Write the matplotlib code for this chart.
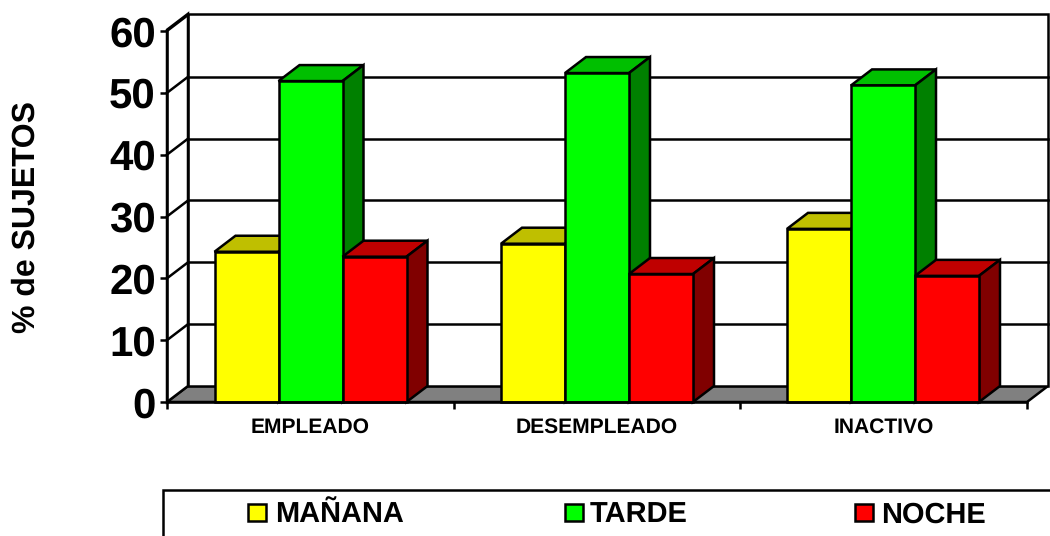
import matplotlib
matplotlib.use("Agg")
import matplotlib.pyplot as plt
from matplotlib.patches import Polygon, Rectangle

plt.rcParams["font.family"] = ["Liberation Sans", "DejaVu Sans"]
plt.rcParams["text.hinting"] = "none"
plt.rcParams["text.hinting_factor"] = 1

categories = ["EMPLEADO", "DESEMPLEADO", "INACTIVO"]
series_names = ["MAÑANA", "TARDE", "NOCHE"]
manana = [24.3, 25.6, 28.0]
tarde = [51.9, 53.2, 51.2]
noche = [23.5, 20.7, 20.4]
y_ticks = [0, 10, 20, 30, 40, 50, 60]

front_cols = ["#FFFF00", "#00FF00", "#FF0000"]
top_cols = ["#BFBF00", "#00BF00", "#BF0000"]
side_cols = ["#808000", "#008000", "#800000"]

W, H = 1050, 536
fig = plt.figure(figsize=(W / 100, H / 100), dpi=100)
# front plane of the 3d box, in pixels: x 167-1027, y 31-402
ax = fig.add_axes([167 / W, 1 - 402 / H, 860 / W, 371 / H])
ax.set_xlim(0, 3)
ax.set_ylim(0, 60)
ax.set_facecolor("none")
for s in ax.spines.values():
    s.set_visible(False)

# depth offset of the box
dx = 21 / 860 * 3
dy = 16 / 371 * 60
lw = 1.8
edge = "black"


def poly(pts, fc, z):
    ax.add_patch(Polygon(pts, closed=True, facecolor=fc, edgecolor=edge, lw=lw,
                         joinstyle="miter", clip_on=False, zorder=z))


# floor and back wall
poly([(0, 0), (3, 0), (3 + dx, dy), (dx, dy)], "#808080", 1)
top = 60 + 0.2
poly([(dx, dy), (3 + dx, dy), (3 + dx, top + dy), (dx, top + dy)], "white", 1)
poly([(0, 0), (dx, dy), (dx, top + dy), (0, top)], "white", 1)

# gridlines, back wall and left wall
for v in y_ticks[1:]:
    if v < 60:
        ax.plot([dx, 3 + dx], [v + dy, v + dy], color=edge, lw=lw, zorder=2, clip_on=False)
    ax.plot([0, dx], [v, v + dy], color=edge, lw=lw, zorder=2, clip_on=False)

# bars
bar_w = 64 / 860 * 3
starts = [(214.5 - 167) / 860 * 3, (501 - 167) / 860 * 3, (787 - 167) / 860 * 3]
z = 3
for i in range(len(categories)):
    for j, vals in enumerate([manana, tarde, noche]):
        v = vals[i]
        x0 = starts[i] + j * bar_w
        x1 = x0 + bar_w
        poly([(x0, v), (x1, v), (x1 + dx, v + dy), (x0 + dx, v + dy)], top_cols[j], z)
        poly([(x1, 0), (x1 + dx, dy), (x1 + dx, v + dy), (x1, v)], side_cols[j], z)
        ax.bar(x0, v, width=bar_w, align="edge", color=front_cols[j], edgecolor=edge,
               lw=lw, zorder=z, clip_on=False)
        z += 1

# axes lines and ticks
ax.plot([0, 3], [0, 0], color=edge, lw=lw, zorder=z, clip_on=False)
ax.plot([0, 0], [0, 60], color=edge, lw=lw, zorder=z, clip_on=False)
ax.set_yticks(y_ticks)
ax.set_yticklabels([str(t) for t in y_ticks], fontsize=30, fontweight="bold")
ax.tick_params(axis="y", length=5, width=lw, pad=3)
ax.set_xticks([0, 1, 2, 3])
ax.set_xticklabels([])
ax.tick_params(axis="x", length=5, width=lw)
for i, c in enumerate(categories):
    ax.text(i + 0.5, -4.1, c, ha="center", va="center", fontsize=15, fontweight="bold")

fig.text(26 / W, 1 - 217 / H, "% de SUJETOS", rotation=90, ha="center", va="center",
         fontsize=22.8, fontweight="bold")

# legend box runs off the bottom right of the image
ov = fig.add_axes([0, 0, 1, 1])
ov.set_xlim(0, W)
ov.set_ylim(H, 0)
ov.axis("off")
ov.patch.set_visible(False)
ov.add_patch(Rectangle((163, 490), 900, 60, facecolor="white", edgecolor=edge, lw=lw))
legend_sw = [248, 565, 855]
legend_tx = [275, 590, 881]
for name, col, sx, tx in zip(series_names, front_cols, legend_sw, legend_tx):
    ov.add_patch(Rectangle((sx, 504), 18, 17, facecolor=col, edgecolor=edge, lw=lw))
    ov.text(tx, 515, name, ha="left", va="center", fontsize=21, fontweight="bold")

fig.savefig("out.png", dpi=100, facecolor="white")
